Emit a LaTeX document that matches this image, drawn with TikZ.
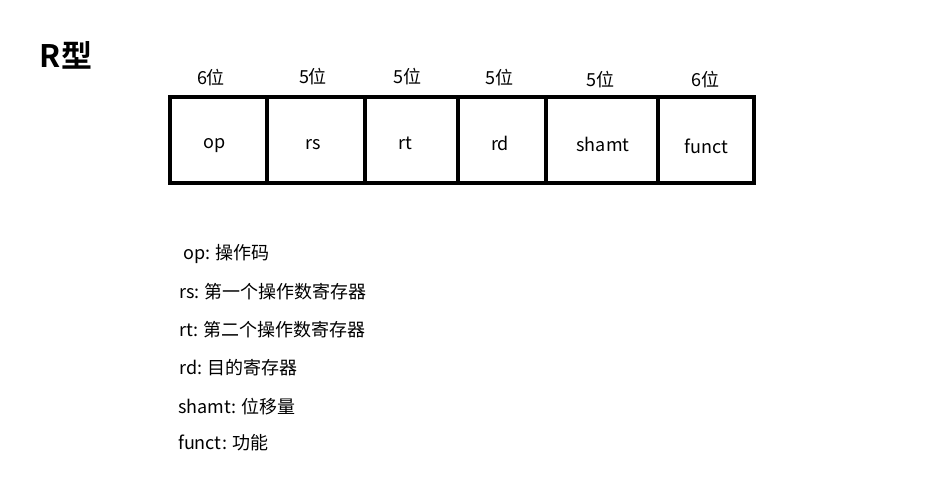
\documentclass[tikz,border=0pt]{standalone}
\usepackage{fontspec}
\setmainfont{Noto Sans CJK SC}
\newfontfamily\titlefont{Noto Sans CJK SC Bold}
\begin{document}
\begin{tikzpicture}[x=1pt,y=-1pt,
  lbl/.style={inner sep=0pt,font=\fontsize{18}{21}\selectfont},
  leg/.style={inner sep=0pt,anchor=west,font=\fontsize{18}{21}\selectfont},
  frame/.style={line width=4.5pt}]
\useasboundingbox (0,0) rectangle (931,477);
\fill[white] (0,0) rectangle (931,477);
\node[inner sep=0pt,font=\titlefont\fontsize{31}{34}\selectfont] (title) at (66,55) {R型};
% frame
\coordinate (tl) at (170,97);
\coordinate (br) at (754,183);
\draw[frame] (tl) rectangle (br);
\foreach \x/\n in {267/a,365/b,458/c,546/d,658/e}{
  \coordinate (t\n) at (\x,97);
  \coordinate (b\n) at (\x,184);
  \draw[frame] (t\n) -- (b\n);
}
% bit labels
\node[lbl] (w1) at (211,78) {6位};
\node[lbl] (w2) at (313,77) {5位};
\node[lbl] (w3) at (407,77) {5位};
\node[lbl] (w4) at (499,78) {5位};
\node[lbl] (w5) at (600,80) {5位};
\node[lbl] (w6) at (705,80) {6位};
% cell labels
\node[lbl] (op) at (215,146) {op};
\node[lbl] (rs) at (313,145) {rs};
\node[lbl] (rt) at (405,143) {rt};
\node[lbl] (rd) at (500,143) {rd};
\node[lbl] (sh) at (603,144) {shamt};
\node[lbl] (fu) at (706,146) {funct};
% legend
\node[leg] (l1) at (183,254) {op: 操作码};
\node[leg] (l2) at (179,292) {rs: 第一个操作数寄存器};
\node[leg] (l3) at (179,330) {rt: 第二个操作数寄存器};
\node[leg] (l4) at (179,368) {rd: 目的寄存器};
\node[leg] (l5) at (178,407) {shamt: 位移量};
\node[leg] (l6) at (178,443) {funct: 功能};
\end{tikzpicture}
\end{document}
